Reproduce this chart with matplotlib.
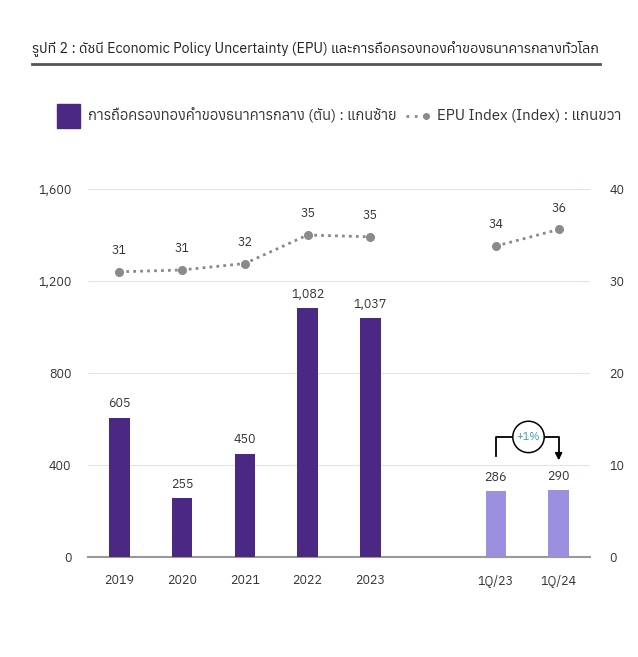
import matplotlib
matplotlib.use("Agg")
import matplotlib.pyplot as plt
from matplotlib import font_manager
from matplotlib.ft2font import FT2Font

# data
labels = ["2019", "2020", "2021", "2022", "2023", "1Q/23", "1Q/24"]
x_pos = [0, 1, 2, 3, 4, 6, 7]
gold_tons = [605, 255, 450, 1082, 1037, 286, 290]
epu_index = [31.0, 31.2, 31.9, 35.0, 34.8, 33.8, 35.6]
left_ticks = [0, 400, 800, 1200, 1600]
right_ticks = [0, 10, 20, 30, 40]

title = "รูปที่ 2 : ดัชนี Economic Policy Uncertainty (EPU) และการถือครองทองคำของธนาคารกลางทั่วโลก"
legend_bar = "การถือครองทองคำของธนาคารกลาง (ตัน) : แกนซ้าย"
legend_line = "EPU Index (Index) : แกนขวา"


def find_thai_fonts():
    names = []
    for path in font_manager.findSystemFonts():
        try:
            cmap = FT2Font(path).get_charmap()
        except Exception:
            continue
        if 0x0E01 in cmap and 0x0E32 in cmap:
            try:
                names.append(font_manager.FontProperties(fname=path).get_name())
            except Exception:
                pass
    return sorted(set(names))


thai = find_thai_fonts()
plt.rcParams["font.family"] = thai + ["Liberation Sans Narrow", "DejaVu Sans"]

DARK = "#4a2883"
LIGHT = "#9b8fe0"
LINE = "#8a8a8a"
TXT = "#333333"

fig = plt.figure(figsize=(6.38, 6.57), dpi=100)
ax = fig.add_axes([88 / 638, 1 - 557 / 657, (590 - 88) / 638, (557 - 189) / 657])
ax2 = ax.twinx()

colors = [DARK] * 5 + [LIGHT] * 2
ax.bar(x_pos, gold_tons, width=0.33, color=colors, zorder=3)
for xp, v in zip(x_pos, gold_tons):
    ax.text(xp, v + 32, f"{v:,}", ha="center", va="bottom", fontsize=9, color=TXT)

ax.set_xlim(-0.5, 7.5)
ax.set_ylim(0, 1600)
ax.set_yticks(left_ticks)
ax.set_yticklabels([f"{t:,}" for t in left_ticks])
ax.set_xticks(x_pos)
ax.set_xticklabels(labels)
ax.grid(axis="y", color="#dde5ee", linewidth=0.8, zorder=0)
for s in ["top", "right", "left"]:
    ax.spines[s].set_visible(False)
ax.spines["bottom"].set_color("#999999")
ax.spines["bottom"].set_linewidth(1.5)
ax.tick_params(axis="x", length=0, labelsize=9, colors=TXT, pad=12)
ax.tick_params(axis="y", length=0, labelsize=9, colors=TXT, pad=12)

# EPU line, broken between annual and quarterly points
for sl in (slice(0, 5), slice(5, 7)):
    ax2.plot(x_pos[sl], epu_index[sl], linestyle=(0, (1, 1.5)), color=LINE,
             linewidth=2, marker="o", markersize=5.5, zorder=4)
for xp, v in zip(x_pos, epu_index):
    ax2.text(xp, v + 1.6, f"{v:.0f}", ha="center", va="bottom", fontsize=9, color=TXT)
ax2.set_ylim(0, 40)
ax2.set_yticks(right_ticks)
for s in ["top", "right", "left", "bottom"]:
    ax2.spines[s].set_visible(False)
ax2.tick_params(length=0, labelsize=9, colors=TXT, pad=14)

# +1% change marker between the quarterly bars
y_lo, y_hi, y_end = 440, 522, 420
ax.plot([x_pos[5], x_pos[5], 6.38], [y_lo, y_hi, y_hi], color="black", lw=1.3, zorder=5)
ax.annotate("", xy=(x_pos[6], y_end), xytext=(6.66, y_hi),
            arrowprops=dict(arrowstyle="-|>", color="black", lw=1.3,
                            connectionstyle="angle,angleA=0,angleB=90,rad=0",
                            shrinkA=0, shrinkB=0), zorder=5)
ax.text(6.52, y_hi, "+1%", ha="center", va="center", fontsize=8, color="#3a9fb8",
        bbox=dict(boxstyle="circle,pad=0.35", fc="white", ec="black", lw=1.1), zorder=6)

# title and legend
fig.text(32 / 638, 1 - 48 / 657, title, fontsize=10.2, color="#222222", va="center")
fig.add_artist(plt.Line2D([32 / 638, 600 / 638], [1 - 64 / 657] * 2, color="#555555", lw=2))
fig.patches.append(plt.Rectangle((57 / 638, 1 - 128 / 657), 23 / 638, 24 / 657,
                                 transform=fig.transFigure, color=DARK))
fig.text(88 / 638, 1 - 116 / 657, legend_bar, fontsize=10.5, color=TXT, va="center")
fig.add_artist(plt.Line2D([406 / 638, 426 / 638], [1 - 116 / 657] * 2, color=LINE,
                          lw=2, linestyle=(0, (1, 2)), marker="o", markevery=[1],
                          markersize=4))
fig.text(437 / 638, 1 - 116 / 657, legend_line, fontsize=10.8, color=TXT, va="center")

fig.savefig("out.png", dpi=100)
